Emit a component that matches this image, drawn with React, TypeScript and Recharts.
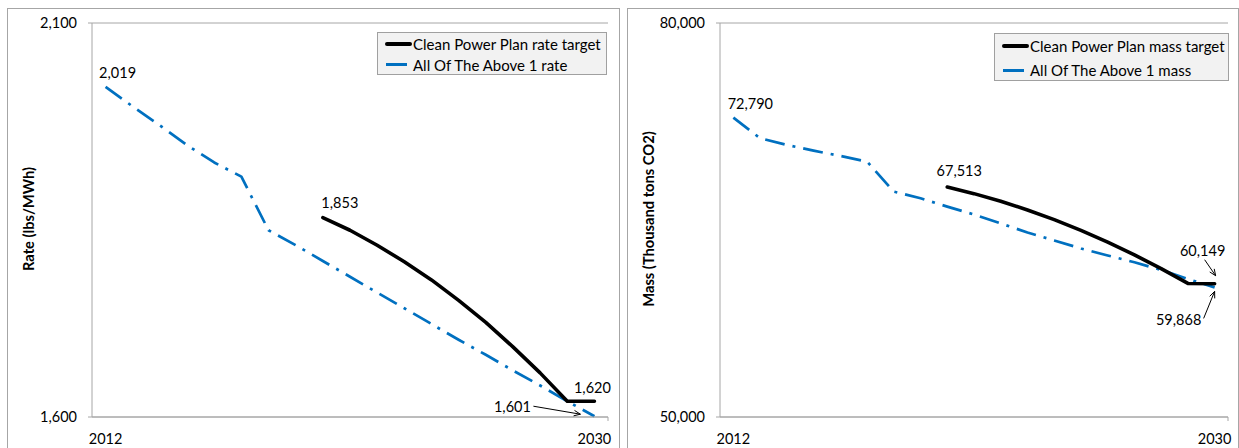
import React from 'react';
import { LineChart, Line, XAxis, YAxis, CartesianGrid, Legend, ReferenceLine } from 'recharts';

const years = [2012, 2013, 2014, 2015, 2016, 2017, 2018, 2019, 2020, 2021, 2022, 2023, 2024, 2025, 2026, 2027, 2028, 2029, 2030];
const rateTarget = [null, null, null, null, null, null, null, null, 1853, 1837, 1818, 1797, 1774, 1748, 1720, 1689, 1656, 1620, 1620];
const rateAllOfTheAbove = [2019, 1994, 1970, 1945, 1923, 1905, 1837, 1818, 1798, 1778, 1758, 1738, 1718, 1698, 1679, 1659, 1640, 1620, 1601];
const massTarget = [null, null, null, null, null, null, null, null, 67513, 67008, 66426, 65766, 65027, 64212, 63318, 62346, 61297, 60170, 60149];
const massAllOfTheAbove = [72790, 71226, 70716, 70282, 69878, 69444, 67159, 66656, 66017, 65423, 64737, 64052, 63443, 62833, 62300, 61780, 61196, 60510, 59868];
const rateTicks = [1600, 2100];
const massTicks = [50000, 80000];
const yearTicks = [2012, 2030];
const rateNames = ['Clean Power Plan rate target', 'All Of The Above 1 rate'];
const massNames = ['Clean Power Plan mass target', 'All Of The Above 1 mass'];

const FONT = 'Lato, "Open Sans", sans-serif';
const AXIS = '#a6a6a6';
const BLUE = '#0070C0';
const fmt = (v: number) => v.toLocaleString('en-US');

type Note = { index: number; dx: number; dy: number; arrow?: [number, number, number, number] };

function Arrow({ x1, y1, x2, y2 }: { x1: number; y1: number; x2: number; y2: number }) {
  const ang = Math.atan2(y2 - y1, x2 - x1);
  const len = 7;
  const a1 = ang + Math.PI - 0.4;
  const a2 = ang + Math.PI + 0.4;
  return (
    <g stroke="#000" strokeWidth={1} fill="none">
      <line x1={x1} y1={y1} x2={x2} y2={y2} />
      <line x1={x2} y1={y2} x2={x2 + len * Math.cos(a1)} y2={y2 + len * Math.sin(a1)} />
      <line x1={x2} y1={y2} x2={x2 + len * Math.cos(a2)} y2={y2 + len * Math.sin(a2)} />
    </g>
  );
}

function makeDot(notes: Note[], key: string) {
  return (p: any) => {
    const { cx, cy, index } = p;
    const k = `${key}-${index}`;
    const v = p.payload ? p.payload[key] : null;
    const note = notes.find((n) => n.index === index);
    if (!note || cx == null || cy == null || v == null || isNaN(cx) || isNaN(cy)) return <g key={k} />;
    return (
      <g key={k}>
        <text x={cx + note.dx} y={cy + note.dy} textAnchor="middle" dominantBaseline="central" fontFamily={FONT} fontSize={14.5} fill="#000">
          {fmt(v)}
        </text>
        {note.arrow && <Arrow x1={cx + note.arrow[0]} y1={cy + note.arrow[1]} x2={cx + note.arrow[2]} y2={cy + note.arrow[3]} />}
      </g>
    );
  };
}

type PanelProps = {
  left: number;
  width: number;
  target: (number | null)[];
  other: number[];
  domain: [number, number];
  ticks: number[];
  names: string[];
  yLabel: string;
  yLabelX: number;
  marginLeft: number;
  marginRight: number;
  legendBox: { left: number; top: number; width: number; height: number; row: number };
  targetNotes: Note[];
  otherNotes: Note[];
  tickBelow: number;
};

function Panel(props: PanelProps) {
  const data = years.map((y, i) => ({ year: y, target: props.target[i], other: props.other[i] }));
  const lb = props.legendBox;
  const legendContent = () => (
    <div
      style={{
        boxSizing: 'border-box',
        width: lb.width,
        height: lb.height,
        background: '#f2f2f2',
        border: '1px solid #a0a0a0',
        fontFamily: FONT,
        fontSize: 15,
        color: '#000',
      }}
    >
      <div style={{ height: lb.row, display: 'flex', alignItems: 'center', marginTop: 0 }}>
        <div style={{ marginLeft: 7, width: 27, height: 4, background: '#000', borderRadius: 2 }} />
        <span style={{ marginLeft: 1, whiteSpace: 'nowrap' }}>{props.names[0]}</span>
      </div>
      <div style={{ height: lb.row, display: 'flex', alignItems: 'center' }}>
        <div style={{ marginLeft: 8, width: 21, height: 3, background: BLUE }} />
        <span style={{ marginLeft: 6, whiteSpace: 'nowrap' }}>{props.names[1]}</span>
      </div>
    </div>
  );
  const d0 = props.domain[0];
  return (
    <div style={{ position: 'absolute', left: props.left, top: 0 }}>
      <LineChart
        width={props.width}
        height={448}
        data={data}
        margin={{ top: 23, right: props.marginRight, bottom: 1, left: props.marginLeft }}
      >
        <CartesianGrid horizontal={true} vertical={false} stroke={AXIS} strokeWidth={1} />
        <XAxis
          dataKey="year"
          type="number"
          domain={[2011.5, 2030.5]}
          ticks={yearTicks}
          height={30}
          tickLine={false}
          tickSize={6}
          tickMargin={11}
          stroke={AXIS}
          tick={{ fill: '#000', fontFamily: FONT, fontSize: 14.5 }}
          tickFormatter={(v: number) => String(v)}
        />
        <YAxis
          type="number"
          domain={props.domain}
          ticks={props.ticks}
          width={50}
          tickSize={4}
          tickMargin={11}
          stroke={AXIS}
          tick={{ fill: '#000', fontFamily: FONT, fontSize: 14.5 }}
          tickFormatter={(v: number) => fmt(v)}
          label={(lp: any) => {
            const vb = lp.viewBox || { x: 0, y: 0, width: 0, height: 0 };
            const cx = props.yLabelX;
            const cy = vb.y + vb.height / 2 - 1;
            return (
              <text
                x={cx}
                y={cy}
                transform={`rotate(-90 ${cx} ${cy})`}
                textAnchor="middle"
                dominantBaseline="central"
                fontFamily={FONT}
                fontWeight="bold"
                fontSize={14.7}
                fill="#000"
              >
                {props.yLabel}
              </text>
            );
          }}
        />
        <ReferenceLine
          segment={[
            { x: 2030.5, y: d0 },
            { x: 2030.5, y: d0 - props.tickBelow },
          ]}
          stroke={AXIS}
          ifOverflow="visible"
        />
        <Legend
          layout="vertical"
          align="center"
          verticalAlign="middle"
          content={legendContent}
          wrapperStyle={{ position: 'absolute', left: lb.left, top: lb.top, width: lb.width, height: lb.height }}
        />
        <Line
          dataKey="other"
          name={props.names[1]}
          stroke={BLUE}
          strokeWidth={2.7}
          strokeDasharray="20 8 3 8"
          strokeLinecap="butt"
          strokeLinejoin="round"
          dot={makeDot(props.otherNotes, 'other')}
          activeDot={false}
          isAnimationActive={false}
          connectNulls={false}
        />
        <Line
          dataKey="target"
          name={props.names[0]}
          stroke="#000"
          strokeWidth={3.6}
          strokeLinecap="round"
          strokeLinejoin="round"
          dot={makeDot(props.targetNotes, 'target')}
          activeDot={false}
          isAnimationActive={false}
          connectNulls={false}
        />
      </LineChart>
    </div>
  );
}

export default function App() {
  return (
    <div style={{ position: 'absolute', left: 0, top: 0, width: 1239, height: 448, background: '#fff', overflow: 'hidden' }}>
      <div style={{ position: 'absolute', left: 7, top: 8, width: 611, height: 460, border: '1px solid #a6a6a6' }} />
      <div style={{ position: 'absolute', left: 627, top: 8, width: 610, height: 460, border: '1px solid #a6a6a6' }} />
      <Panel
        left={0}
        width={620}
        target={rateTarget}
        other={rateAllOfTheAbove}
        domain={[1600, 2100]}
        ticks={rateTicks}
        names={rateNames}
        yLabel="Rate (lbs/MWh)"
        yLabelX={28}
        marginLeft={42}
        marginRight={12}
        legendBox={{ left: 377, top: 32, width: 230, height: 43, row: 21 }}
        targetNotes={[
          { index: 8, dx: 17, dy: -15 },
          { index: 18, dx: -2, dy: -14 },
        ]}
        otherNotes={[
          { index: 0, dx: 12, dy: -14 },
          { index: 18, dx: -82, dy: -10, arrow: [-61, -10, -14, -2] },
        ]}
        tickBelow={5}
      />
      <Panel
        left={620}
        width={619}
        target={massTarget}
        other={massAllOfTheAbove}
        domain={[50000, 80000]}
        ticks={massTicks}
        names={massNames}
        yLabel="Mass (Thousand tons CO2)"
        yLabelX={28}
        marginLeft={50}
        marginRight={11}
        legendBox={{ left: 374, top: 33, width: 235, height: 48, row: 24 }}
        targetNotes={[
          { index: 8, dx: 12, dy: -16 },
          { index: 18, dx: -12, dy: -33, arrow: [-10, -24, 1, -8] },
        ]}
        otherNotes={[
          { index: 0, dx: 17, dy: -14 },
          { index: 18, dx: -36, dy: 32, arrow: [-11, 31, 0, 4] },
        ]}
        tickBelow={305}
      />
    </div>
  );
}
